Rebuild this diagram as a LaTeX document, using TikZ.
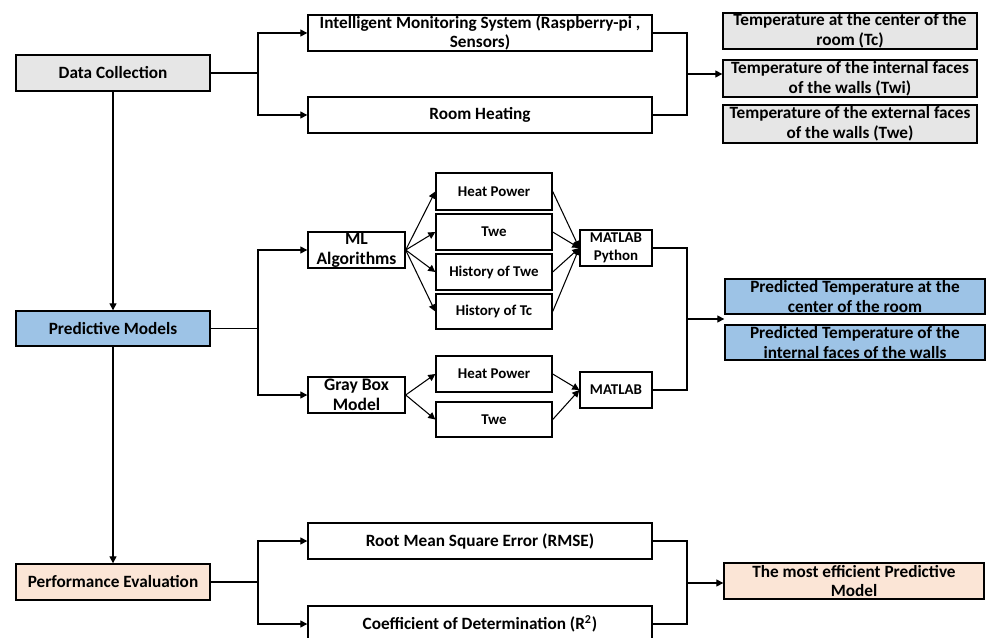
\documentclass[tikz,border=0pt]{standalone}
\usepackage{fontspec}
\setmainfont{Carlito}
\usetikzlibrary{arrows.meta}
\definecolor{boxgray}{HTML}{E6E6E6}
\definecolor{boxblue}{HTML}{9DC3E6}
\definecolor{boxpeach}{HTML}{FBE5D6}
\tikzset{
  bx/.style 2 args={draw, line width=0.8pt, inner sep=0pt, align=center,
    minimum width=#1*0.02cm, minimum height=#2*0.02cm,
    font=\fontsize{9.8}{11.2}\selectfont\bfseries},
  small/.style={font=\fontsize{8.5}{10}\selectfont\bfseries},
  link/.style={line width=0.8pt},
  fan/.style={line width=0.6pt}
}
\begin{document}
\begin{tikzpicture}[x=0.02cm, y=-0.02cm, >={Triangle[length=4pt,width=4pt]}]
\useasboundingbox (0,0) rectangle (986,638);

% stages
\node[bx={194}{36}, fill=boxgray] (dc) at (113,73) {Data Collection};
\node[bx={194}{35}, fill=boxblue] (pm) at (113,328.5) {Predictive Models};
\node[bx={194}{36}, fill=boxpeach] (pe) at (113,582) {Performance Evaluation};
\draw[link,->] (dc.south) -- (pm.north);
\draw[link,->] (pm.south) -- (pe.north);

% data collection
\node[bx={344}{36}] (ims) at (480,33) {Intelligent Monitoring System (Raspberry-pi ,\\Sensors)};
\node[bx={344}{36}] (rh) at (480,115) {Room Heating};
\node[bx={254}{36}, fill=boxgray] (tc) at (850,31) {Temperature at the center of the\\room (Tc)};
\node[bx={254}{37}, fill=boxgray] (twi) at (850,78.5) {Temperature of the internal faces\\of the walls (Twi)};
\node[bx={254}{38}, fill=boxgray] (twe) at (850,124) {Temperature of the external faces\\of the walls (Twe)};

\coordinate (j1) at (258,73);
\coordinate (m1) at (687,74);
\draw[link] (dc.east) -- (j1);
\draw[link,->] (j1) |- (ims.west);
\draw[link,->] (j1) |- (rh.west);
\draw[link] (ims.east) -| (m1);
\draw[link] (rh.east) -| (m1);
\draw[link,->] (m1) -- (m1 -| twi.west);

% predictive models
\node[bx={97}{36}, font=\fontsize{10}{11.5}\selectfont\bfseries] (ml) at (356.5,250) {ML\\Algorithms};
\node[bx={97}{36}, font=\fontsize{10}{11.5}\selectfont\bfseries] (gb) at (356.5,395) {Gray Box\\Model};
\node[bx={116}{37}, small] (hp1) at (494,191.5) {Heat Power};
\node[bx={116}{36}, small] (tw1) at (494,232) {Twe};
\node[bx={116}{36}, small] (htw) at (494,272) {History of Twe};
\node[bx={116}{35}, small] (htc) at (494,311.5) {History of Tc};
\node[bx={116}{36}, small] (hp2) at (494,374) {Heat Power};
\node[bx={116}{35}, small] (tw2) at (494,419.5) {Twe};
\node[bx={72}{36}, small] (mp) at (616,248) {MATLAB\\Python};
\node[bx={72}{36}, small] (mat) at (616,390) {MATLAB};
\node[bx={260}{35}, fill=boxblue] (pr1) at (855,296.5) {Predicted Temperature at the\\center of the room};
\node[bx={260}{35}, fill=boxblue] (pr2) at (855,342.5) {Predicted Temperature of the\\internal faces of the walls};

\coordinate (j2) at (258,328.5);
\coordinate (m2) at (687,319);
\draw[link] (pm.east) -- (j2);
\draw[link,->] (j2) |- (ml.west);
\draw[link,->] (j2) |- (gb.west);
\foreach \n in {hp1,tw1,htw,htc} {
  \draw[fan,->] (ml.east) -- (\n.west);
  \draw[fan,->] (\n.east) -- (mp.west);
}
\foreach \n in {hp2,tw2} {
  \draw[fan,->] (gb.east) -- (\n.west);
  \draw[fan,->] (\n.east) -- (mat.west);
}
\draw[link] (mp.east) -| (m2);
\draw[link] (mat.east) -| (m2);
\draw[link,->] (m2) -- (m2 -| pr1.west);

% performance evaluation
\node[bx={344}{36}] (rmse) at (480,541) {Root Mean Square Error (RMSE)};
\node[bx={344}{36}] (r2) at (480,624) {Coefficient of Determination (R\textsuperscript{2})};
\node[bx={260}{36}, fill=boxpeach] (eff) at (854,581) {The most efficient Predictive\\Model};

\coordinate (j3) at (258,582);
\coordinate (m3) at (687,583);
\draw[link] (pe.east) -- (j3);
\draw[link,->] (j3) |- (rmse.west);
\draw[link,->] (j3) |- (r2.west);
\draw[link] (rmse.east) -| (m3);
\draw[link] (r2.east) -| (m3);
\draw[link,->] (m3) -- (m3 -| eff.west);

\end{tikzpicture}
\end{document}
